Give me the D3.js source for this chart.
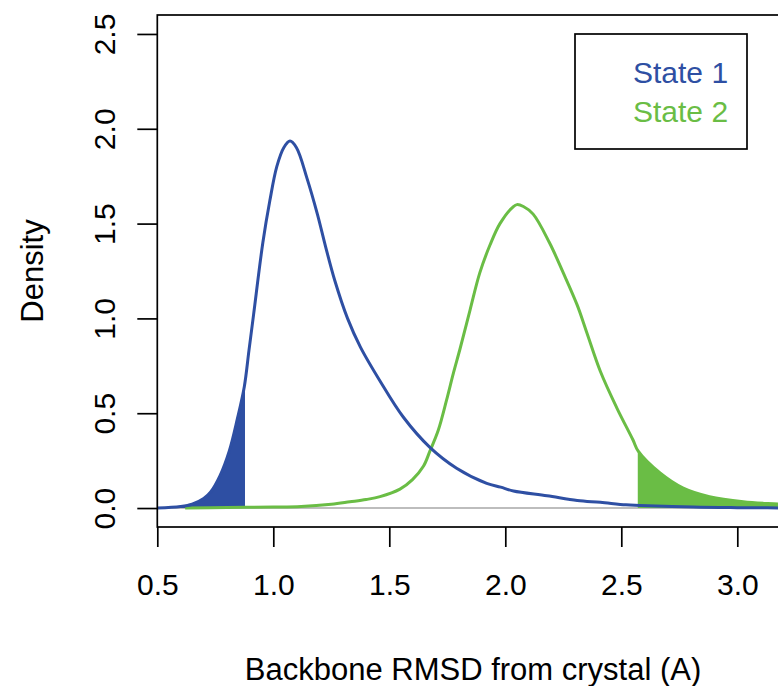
<!DOCTYPE html>
<html>
<head>
<meta charset="utf-8">
<script src="https://cdn.jsdelivr.net/npm/d3@7"></script>
<style>
  body { margin: 0; background: #fff; }
  svg { display: block; font-family: "Liberation Sans", Arial, sans-serif; }
</style>
</head>
<body>
<div id="chart"></div>
<script>
// density curves (x = RMSD, y = density)
var state1X = [0.50, 0.60, 0.65, 0.70, 0.73, 0.77, 0.81, 0.845, 0.875, 0.895, 0.915, 0.955, 0.985, 1.015, 1.045, 1.072, 1.10, 1.145, 1.19, 1.225, 1.265, 1.32, 1.375, 1.46, 1.56, 1.675, 1.79, 1.92, 1.98, 2.035, 2.18, 2.31, 2.41, 2.52, 2.58, 2.81, 3.0, 3.3];
var state1Y = [0.0, 0.008, 0.02, 0.05, 0.085, 0.17, 0.30, 0.47, 0.64, 0.83, 1.02, 1.40, 1.62, 1.80, 1.90, 1.935, 1.90, 1.74, 1.55, 1.38, 1.20, 1.00, 0.85, 0.67, 0.48, 0.32, 0.21, 0.13, 0.11, 0.09, 0.065, 0.040, 0.030, 0.017, 0.014, 0.005, 0.002, 0.0];
var state2X = [0.62, 0.80, 1.00, 1.12, 1.25, 1.33, 1.40, 1.46, 1.546, 1.60, 1.647, 1.675, 1.711, 1.747, 1.776, 1.805, 1.848, 1.89, 1.934, 1.977, 2.035, 2.05, 2.078, 2.12, 2.19, 2.25, 2.31, 2.35, 2.41, 2.48, 2.55, 2.573, 2.667, 2.767, 2.88, 3.026, 3.175, 3.3];
var state2Y = [0.0, 0.003, 0.005, 0.008, 0.02, 0.033, 0.045, 0.06, 0.10, 0.15, 0.22, 0.30, 0.41, 0.57, 0.71, 0.84, 1.044, 1.24, 1.387, 1.50, 1.59, 1.60, 1.59, 1.55, 1.40, 1.24, 1.07, 0.93, 0.72, 0.53, 0.36, 0.30, 0.185, 0.105, 0.06, 0.033, 0.021, 0.012];

// shaded tails
var state1Cut = 0.878;
var state2Cut = 2.571;

var xTicks = [0.5, 1.0, 1.5, 2.0, 2.5, 3.0];
var yTicks = [0.0, 0.5, 1.0, 1.5, 2.0, 2.5];
var seriesNames = ["State 1", "State 2"];
var seriesColors = ["#2e4fa3", "#6abd45"];

var W = 778, H = 686;
var plotLeft = 157.3, plotTop = 15, plotBottom = 527;

var x = d3.scaleLinear().domain([0.5, 3.0]).range([plotLeft, plotLeft + 580]);
var y = d3.scaleLinear().domain([-0.1, 2.6]).range([plotBottom, plotTop]);

var svg = d3.select("#chart").append("svg")
    .attr("width", W)
    .attr("height", H);

var s1 = state1X.map(function(v, i) { return [v, state1Y[i]]; });
var s2 = state2X.map(function(v, i) { return [v, state2Y[i]]; });

var line = d3.line()
    .x(function(d) { return x(d[0]); })
    .y(function(d) { return y(d[1]); })
    .curve(d3.curveCatmullRom.alpha(0.5));

var area = d3.area()
    .x(function(d) { return x(d[0]); })
    .y0(y(0))
    .y1(function(d) { return y(d[1]); })
    .curve(d3.curveCatmullRom.alpha(0.5));

// clip regions for tails
var defs = svg.append("defs");
defs.append("clipPath").attr("id", "tail1").append("rect")
    .attr("x", x(0.5)).attr("y", 0)
    .attr("width", x(state1Cut) - x(0.5)).attr("height", H);
defs.append("clipPath").attr("id", "tail2").append("rect")
    .attr("x", x(state2Cut)).attr("y", 0)
    .attr("width", W).attr("height", H);

// zero line
svg.append("line")
    .attr("x1", plotLeft).attr("x2", W)
    .attr("y1", y(0)).attr("y2", y(0))
    .attr("stroke", "#bdbdbd").attr("stroke-width", 2);

svg.append("path").datum(s1)
    .attr("d", area)
    .attr("fill", seriesColors[0])
    .attr("clip-path", "url(#tail1)");
svg.append("path").datum(s2)
    .attr("d", area)
    .attr("fill", seriesColors[1])
    .attr("clip-path", "url(#tail2)");

svg.append("path").datum(s2)
    .attr("d", line)
    .attr("fill", "none")
    .attr("stroke", seriesColors[1])
    .attr("stroke-width", 3);
svg.append("path").datum(s1)
    .attr("d", line)
    .attr("fill", "none")
    .attr("stroke", seriesColors[0])
    .attr("stroke-width", 3);

// box (right side runs off the page)
svg.append("rect")
    .attr("x", plotLeft).attr("y", plotTop)
    .attr("width", W).attr("height", plotBottom - plotTop)
    .attr("fill", "none")
    .attr("stroke", "#000")
    .attr("stroke-width", 1.7);

// axes
var xAxis = svg.append("g")
    .attr("transform", "translate(0," + plotBottom + ")")
    .call(d3.axisBottom(x).tickValues(xTicks).tickSize(20).tickSizeOuter(0).tickFormat(d3.format(".1f")));
xAxis.select(".domain").remove();
xAxis.selectAll("line").attr("stroke-width", 1.7);
xAxis.selectAll("text")
    .attr("font-size", 30)
    .attr("fill", "#000")
    .attr("dy", null)
    .attr("y", 68);

var yAxis = svg.append("g")
    .attr("transform", "translate(" + plotLeft + ",0)")
    .call(d3.axisLeft(y).tickValues(yTicks).tickSize(20).tickSizeOuter(0).tickFormat(d3.format(".1f")));
yAxis.select(".domain").remove();
yAxis.selectAll("line").attr("stroke-width", 1.7);
yAxis.selectAll("text")
    .attr("font-size", 30)
    .attr("fill", "#000")
    .attr("x", null).attr("dy", null)
    .attr("text-anchor", "middle")
    .attr("transform", "translate(-42,0) rotate(-90)");

// axis titles
svg.append("text")
    .attr("x", 473)
    .attr("y", 680)
    .attr("text-anchor", "middle")
    .attr("font-size", 31)
    .text("Backbone RMSD from crystal (A)");

svg.append("text")
    .attr("transform", "translate(43," + ((plotTop + plotBottom) / 2) + ") rotate(-90)")
    .attr("text-anchor", "middle")
    .attr("font-size", 31)
    .text("Density");

// legend
var legend = svg.append("g");
legend.append("rect")
    .attr("x", 575).attr("y", 34)
    .attr("width", 172).attr("height", 115)
    .attr("fill", "#fff")
    .attr("stroke", "#000")
    .attr("stroke-width", 1.7);
legend.selectAll("text.lab").data(seriesNames).enter().append("text")
    .attr("x", 633)
    .attr("y", function(d, i) { return 83 + i * 38.5; })
    .attr("font-size", 30)
    .attr("fill", function(d, i) { return seriesColors[i]; })
    .text(function(d) { return d; });
</script>
</body>
</html>
